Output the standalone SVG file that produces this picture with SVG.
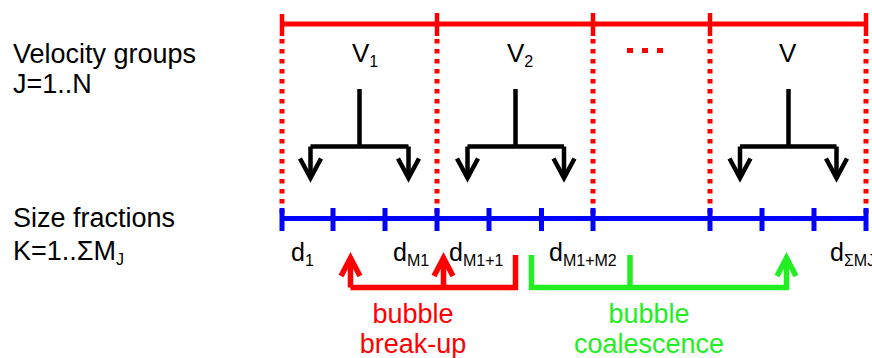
<svg xmlns="http://www.w3.org/2000/svg" width="872" height="358" viewBox="0 0 872 358">
<defs>
<style>
text{font-family:"Liberation Sans",Arial,sans-serif;font-size:25px;fill:#000}
.big{font-size:27px}
.v{font-size:26px}
.sub{font-size:16px}
.red{stroke:#ff0000;fill:none}
.blue{stroke:#0000ff;fill:none;stroke-width:5}
.dot{stroke:#ff0000;stroke-width:5;stroke-dasharray:4.5 5.5;fill:none}
.blk{stroke:#000;stroke-width:4.5;fill:none}
.grn{stroke:#22ee22;fill:none;stroke-width:5.5}
.rtxt{fill:#ff0000;font-size:27px}
.gtxt{fill:#22ee22;font-size:27px}
</style>
</defs>
<rect width="872" height="358" fill="#fff"/>
<g id="labels-left">
<text class="big" x="13" y="63">Velocity groups</text>
<text class="big" x="13" y="93">J=1..N</text>
<text class="big" x="13" y="227">Size fractions</text>
<text class="big" x="13" y="260">K=1..ΣM<tspan class="sub" dy="5">J</tspan></text>
</g>
<g id="velocity-axis">
<line class="red" stroke-width="5" x1="282" y1="24" x2="866" y2="24"/>
<g class="red" stroke-width="4.5">
<line x1="282" y1="14" x2="282" y2="36"/>
<line x1="437" y1="13" x2="437" y2="36"/>
<line x1="593" y1="13" x2="593" y2="36"/>
<line x1="710" y1="13" x2="710" y2="36"/>
<line x1="866" y1="13" x2="866" y2="36"/>
</g>
<g>
<line class="dot" x1="282" y1="39" x2="282" y2="216"/>
<line class="dot" x1="437" y1="39" x2="437" y2="216"/>
<line class="dot" x1="593" y1="39" x2="593" y2="216"/>
<line class="dot" x1="710" y1="39" x2="710" y2="216"/>
<line class="dot" x1="866" y1="39" x2="866" y2="216"/>
</g>
<text class="v" x="352" y="62">V<tspan class="sub" dy="5">1</tspan></text>
<text class="v" x="507" y="62">V<tspan class="sub" dy="5">2</tspan></text>
<g fill="#ff0000"><rect x="627" y="48" width="6" height="5"/><rect x="642" y="48" width="6" height="5"/><rect x="657" y="48" width="6" height="5"/></g>
<text class="v" x="779" y="62">V</text>
</g>
<g id="size-axis">
<line class="blue" x1="282" y1="218.5" x2="866" y2="218.5"/>
<g class="blue" stroke-width="4.5">
<line x1="282" y1="208" x2="282" y2="231"/>
<line x1="333" y1="208" x2="333" y2="231"/>
<line x1="385" y1="208" x2="385" y2="231"/>
<line x1="437" y1="208" x2="437" y2="231"/>
<line x1="489" y1="208" x2="489" y2="231"/>
<line x1="541.5" y1="208" x2="541.5" y2="231"/>
<line x1="593" y1="208" x2="593" y2="231"/>
<line x1="710" y1="208" x2="710" y2="231"/>
<line x1="762" y1="208" x2="762" y2="231"/>
<line x1="814" y1="208" x2="814" y2="231"/>
<line x1="866" y1="208" x2="866" y2="231"/>
</g>
<text x="291" y="261">d<tspan class="sub" dy="5">1</tspan></text>
<text x="393" y="261">d<tspan class="sub" dy="5">M1</tspan></text>
<text x="449" y="261">d<tspan class="sub" dy="5">M1+1</tspan></text>
<text x="549" y="261">d<tspan class="sub" dy="5">M1+M2</tspan></text>
<text x="830" y="261">d<tspan class="sub" dy="5">ΣMJ</tspan></text>
</g>
<g id="connectors">
<g class="blk">
<path d="M359.5 89V146.5M310.5 146.5H408.5M310.5 146.5V178M408.5 146.5V178"/>
<path d="M300 158.5L310.5 178L321 158.5M398 158.5L408.5 178L419 158.5"/>
<path d="M515.5 89V146.5M467.5 146.5H564M467.5 146.5V178M564 146.5V178"/>
<path d="M457 158.5L467.5 178L478 158.5M553.5 158.5L564 178L574.5 158.5"/>
<path d="M788.5 89V146.5M740 146.5H836.5M740 146.5V178M836.5 146.5V178"/>
<path d="M729.5 158.5L740 178L750.5 158.5M826 158.5L836.5 178L847 158.5"/>
</g>
<g class="red" stroke-width="5.5">
<path d="M350.5 287.5H515.5V255M350.5 287.5V259M443.5 287.5V259"/>
<path d="M341 276L350.5 258L360 276M434 276L443.5 258L453 276"/>
</g>
<g class="grn">
<path d="M531.5 255V287.5H786.5V259M630 255V287.5"/>
<path d="M777 276L786.5 258L796 276"/>
</g>
</g>
<g id="process-labels">
<text class="rtxt" x="413" y="323" text-anchor="middle">bubble</text>
<text class="rtxt" x="413" y="353" text-anchor="middle">break-up</text>
<text class="gtxt" x="649" y="323" text-anchor="middle">bubble</text>
<text class="gtxt" x="649" y="353" text-anchor="middle">coalescence</text>
</g>
</svg>
